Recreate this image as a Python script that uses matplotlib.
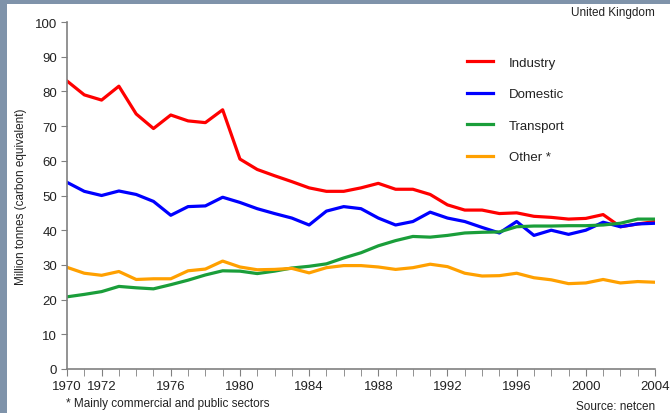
import matplotlib
matplotlib.use("Agg")
import matplotlib.pyplot as plt

plt.rcParams['font.family'] = ['Liberation Sans', 'DejaVu Sans']

years = list(range(1970, 2005))
industry = [83, 79, 77.5, 81.5, 73.5, 69.3, 73.2, 71.5, 71, 74.7, 60.5, 57.5, 55.7, 54, 52.2,
            51.2, 51.2, 52.2, 53.5, 51.8, 51.8, 50.3, 47.3, 45.8, 45.8, 44.8, 45, 44, 43.7,
            43.2, 43.4, 44.5, 41, 41.8, 42.5]
domestic = [53.8, 51.2, 50, 51.3, 50.3, 48.3, 44.3, 46.8, 47, 49.5, 48, 46.2, 44.8, 43.5, 41.5,
            45.5, 46.8, 46.2, 43.5, 41.5, 42.5, 45.2, 43.5, 42.5, 40.8, 39.2, 42.5, 38.5, 40,
            38.8, 40, 42.3, 41, 41.8, 42]
transport = [20.8, 21.5, 22.3, 23.8, 23.4, 23.1, 24.3, 25.6, 27.1, 28.3, 28.2, 27.5, 28.2, 29.1,
             29.6, 30.3, 32, 33.5, 35.5, 37, 38.2, 38, 38.5, 39.2, 39.4, 39.5, 41, 41.2, 41.2,
             41.3, 41.3, 41.5, 42, 43.2, 43.2]
other = [29.3, 27.6, 27, 28.1, 25.8, 26, 26, 28.3, 28.8, 31.1, 29.4, 28.6, 28.7, 29, 27.7,
         29.2, 29.8, 29.8, 29.4, 28.7, 29.2, 30.2, 29.5, 27.6, 26.8, 26.9, 27.6, 26.3, 25.7,
         24.6, 24.8, 25.8, 24.8, 25.2, 25]

series_names = ["Industry", "Domestic", "Transport", "Other *"]
series_colors = ["#ff0000", "#0000ff", "#1a9e3a", "#ffa000"]
xtick_labels = [1970, 1972, 1976, 1980, 1984, 1988, 1992, 1996, 2000, 2004]
yticks = list(range(0, 101, 10))

fig = plt.figure(figsize=(6.7, 4.14), dpi=100)
fig.patch.set_facecolor("#7f93aa")

bg = fig.add_axes([7/670, 0, 1 - 7/670, 1 - 5/414], zorder=-10)
bg.set_facecolor("white")
bg.set_xticks([]); bg.set_yticks([])
for s in bg.spines.values():
    s.set_visible(False)

ax = fig.add_axes([67/670, 44/414, (655-67)/670, (370-23)/414], zorder=1)
ax.set_facecolor("none")

for vals, name, col in zip([industry, domestic, transport, other], series_names, series_colors):
    ax.plot(years, vals, color=col, lw=2.3, label=name, solid_joinstyle='round')

ax.set_xlim(1970, 2004)
ax.set_ylim(0, 100)
ax.set_xticks(xtick_labels)
ax.set_xticks(years, minor=True)
ax.set_yticks(yticks)
for s in ["top", "right"]:
    ax.spines[s].set_visible(False)
for s in ["left", "bottom"]:
    ax.spines[s].set_color("#808080")
    ax.spines[s].set_linewidth(1.2)
ax.tick_params(axis='both', which='both', color="#808080", labelsize=9.5, labelcolor="#222222")
ax.tick_params(axis='x', which='major', length=5, pad=3)
ax.tick_params(axis='x', which='minor', length=5)
ax.tick_params(axis='y', length=4, pad=3)
ax.set_ylabel("Million tonnes (carbon equivalent)", fontsize=8.5, color="#222222", labelpad=6)

leg = ax.legend(loc='upper left', bbox_to_anchor=(455/670, 1 - 46/414),
                bbox_transform=fig.transFigure, frameon=False, fontsize=9.5,
                labelspacing=1.45, handlelength=2.0, handletextpad=1.2)
for t in leg.get_texts():
    t.set_color("#222222")

fig.text(655/670, 1 - 13/414, "United Kingdom", ha='right', va='center', fontsize=8.5, color="#222222")
fig.text(66/670, 1 - 404/414, "* Mainly commercial and public sectors", ha='left', va='center',
         fontsize=8.5, color="#222222")
fig.text(655/670, 1 - 407/414, "Source: netcen", ha='right', va='center', fontsize=8.5, color="#222222")

fig.savefig("out.png", dpi=100, facecolor=fig.get_facecolor())
